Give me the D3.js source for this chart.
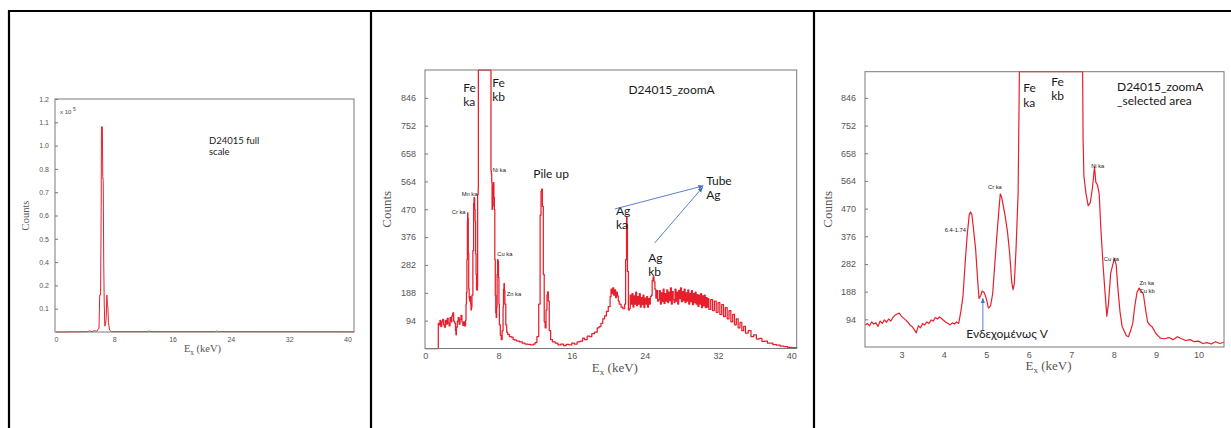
<!DOCTYPE html>
<html>
<head>
<meta charset="utf-8">
<script src="https://cdn.jsdelivr.net/npm/d3@7"></script>
<style>
body { margin: 0; background: #fff; }
.tick text { fill: #555; font-family: "Liberation Sans", Arial, sans-serif; }
.note { font-family: Lato, "Open Sans", sans-serif; fill: #1a1a1a; }
.small { font-family: "Liberation Sans", Arial, sans-serif; fill: #1a1a1a; }
.title { font-family: "Liberation Serif", "Times New Roman", serif; fill: #555; }
</style>
</head>
<body>
<svg id="chart" width="1231" height="428"></svg>
<script>

// ---- data: [energy keV, counts] ----
const fullScale = [ // counts in x10^5
  [0, 0], [1.4, 0], [1.5, 0.001], [3.0, 0.001], [4.4, 0.002], [4.6, 0.006], [4.8, 0.002],
  [5.3, 0.006], [5.6, 0.004], [5.9, 0.02], [6.0, 0.19], [6.12, 0.19], [6.2, 0.64],
  [6.24, 1.057], [6.36, 1.057], [6.42, 0.8], [6.48, 0.78], [6.55, 0.36], [6.62, 0.15],
  [6.7, 0.03], [6.8, 0.04], [6.9, 0.08], [6.98, 0.19], [7.05, 0.14], [7.12, 0.13],
  [7.2, 0.05], [7.35, 0.01], [7.6, 0.002], [12.6, 0.002], [12.75, 0.006], [12.9, 0.002],
  [21.9, 0.002], [22.0, 0.005], [22.15, 0.002], [40.9, 0.001]
];

const zoomA = [
  [0, 0], [1.41, 0], [1.42, 85], [1.5, 80], [1.6, 95], [1.7, 74], [1.8, 90], [1.9, 98],
  [2.0, 80], [2.1, 72], [2.2, 95], [2.3, 82], [2.4, 102], [2.5, 86], [2.6, 76], [2.7, 104],
  [2.8, 90], [2.9, 110], [3.0, 120], [3.1, 92], [3.2, 86], [3.3, 60], [3.35, 46], [3.4, 72],
  [3.5, 92], [3.6, 104], [3.7, 82], [3.8, 98], [3.9, 112], [4.0, 90], [4.1, 78], [4.2, 90],
  [4.3, 76], [4.4, 95], [4.45, 150], [4.5, 190], [4.55, 300], [4.6, 430], [4.63, 458],
  [4.66, 440], [4.7, 320], [4.75, 200], [4.8, 170], [4.85, 160], [4.9, 175], [4.95, 150],
  [5.0, 130], [5.05, 140], [5.1, 180], [5.2, 330], [5.28, 490], [5.33, 510], [5.36, 505],
  [5.4, 470], [5.45, 430], [5.5, 320], [5.55, 250], [5.6, 200], [5.65, 197], [5.7, 210],
  [5.72, 520], [5.78, 540], [5.8, 2000], [7.15, 2000], [7.18, 600], [7.22, 590], [7.26, 560],
  [7.3, 470], [7.35, 480], [7.4, 550], [7.45, 560], [7.5, 510], [7.55, 470], [7.6, 300],
  [7.65, 180], [7.7, 120], [7.75, 105], [7.8, 140], [7.85, 250], [7.9, 300], [7.95, 295],
  [8.0, 240], [8.05, 150], [8.1, 80], [8.2, 45], [8.3, 30], [8.4, 60], [8.5, 140],
  [8.55, 200], [8.6, 219], [8.65, 195], [8.7, 150], [8.8, 80], [8.9, 55], [9.0, 48],
  [9.2, 40], [9.4, 38], [9.6, 30], [9.8, 28], [10.0, 25], [10.3, 22], [10.6, 18],
  [10.9, 15], [11.2, 14], [11.5, 12], [11.8, 15], [12.0, 20], [12.2, 40], [12.4, 150],
  [12.55, 450], [12.65, 530], [12.72, 538], [12.8, 480], [12.9, 250], [13.0, 90],
  [13.1, 70], [13.2, 130], [13.3, 180], [13.37, 191], [13.45, 160], [13.55, 60], [13.7, 30],
  [13.9, 22], [14.2, 18], [14.5, 12], [14.8, 15], [15.1, 10], [15.4, 14], [15.7, 12],
  [16.0, 18], [16.3, 15], [16.6, 22], [16.9, 25], [17.2, 35], [17.4, 30], [17.7, 42],
  [18.0, 40], [18.2, 50], [18.5, 55], [18.8, 70], [19.0, 74], [19.2, 85], [19.4, 100],
  [19.6, 110], [19.8, 125], [20.0, 141], [20.2, 175], [20.3, 200], [20.4, 185], [20.5, 205],
  [20.6, 180], [20.7, 198], [20.8, 172], [20.9, 190], [21.0, 178], [21.1, 160], [21.2, 150],
  [21.4, 140], [21.6, 135], [21.8, 150], [21.9, 300], [22.0, 443], [22.05, 420], [22.1, 260],
  [22.2, 130], [22.3, 135], [22.4, 180], [22.5, 150], [22.6, 185], [22.7, 140], [22.8, 178],
  [22.9, 150], [23.0, 190], [23.1, 145], [23.2, 175], [23.3, 150], [23.4, 185], [23.5, 140],
  [23.6, 172], [23.7, 148], [23.8, 180], [23.9, 138], [24.0, 170], [24.1, 150], [24.2, 175],
  [24.3, 140], [24.4, 168], [24.5, 150], [24.6, 175], [24.7, 180], [24.8, 230], [24.9, 242],
  [25.0, 225], [25.1, 200], [25.2, 170], [25.3, 195], [25.4, 160],
  [25.5, 165], [25.6, 195], [25.7, 150], [25.8, 188], [25.9, 158], [26.0, 200], [26.1, 152],
  [26.2, 185], [26.3, 160], [26.4, 198], [26.5, 155], [26.6, 190], [26.7, 162], [26.8, 205],
  [26.9, 150], [27.0, 192], [27.1, 165], [27.2, 155], [27.3, 200], [27.4, 160], [27.5, 190],
  [27.6, 150], [27.7, 196], [27.8, 168], [27.9, 205], [28.0, 158], [28.1, 192], [28.2, 162],
  [28.3, 200], [28.4, 155], [28.5, 188], [28.6, 160], [28.7, 198], [28.8, 150], [28.9, 186],
  [29.0, 158], [29.1, 195], [29.2, 148], [29.3, 185], [29.4, 155], [29.5, 190], [29.6, 150],
  [29.7, 182], [29.8, 142], [29.9, 180], [30.0, 150], [30.1, 185], [30.2, 138], [30.3, 178],
  [30.4, 145], [30.5, 180], [30.6, 138], [30.7, 172], [30.8, 140], [30.9, 168], [31.0, 132],
  [31.2, 165], [31.4, 128], [31.6, 160], [31.8, 122], [32.0, 155], [32.2, 115], [32.4, 148],
  [32.6, 108], [32.8, 138], [33.0, 100], [33.2, 128], [33.4, 90], [33.6, 115], [33.8, 80],
  [34.0, 100], [34.2, 70], [34.4, 88], [34.6, 60], [34.8, 75], [35.0, 52], [35.3, 60],
  [35.6, 40], [35.9, 46], [36.2, 32], [36.5, 34], [36.8, 24], [37.1, 25], [37.4, 18],
  [37.7, 18], [38.0, 13], [38.4, 11], [38.8, 8], [39.2, 6], [39.6, 4], [40.0, 3], [40.6, 2]
];

const selectedArea = [
  [2.15, 75], [2.2, 80], [2.25, 72], [2.3, 85], [2.35, 78], [2.4, 82], [2.45, 70], [2.5, 88],
  [2.55, 80], [2.6, 92], [2.65, 84], [2.7, 95], [2.75, 88], [2.8, 100], [2.85, 108],
  [2.9, 112], [2.95, 115], [3.0, 105], [3.05, 98], [3.1, 92], [3.15, 85], [3.2, 75],
  [3.25, 70], [3.3, 60], [3.35, 48], [3.4, 72], [3.45, 65], [3.5, 80], [3.55, 75],
  [3.6, 85], [3.65, 80], [3.7, 92], [3.75, 88], [3.8, 100], [3.85, 95], [3.9, 102],
  [3.95, 96], [4.0, 90], [4.05, 84], [4.1, 80], [4.15, 75], [4.2, 82], [4.25, 78],
  [4.3, 85], [4.35, 80], [4.4, 120], [4.45, 170], [4.5, 280], [4.55, 380], [4.6, 450],
  [4.63, 458], [4.66, 450], [4.7, 400], [4.75, 330], [4.8, 220], [4.83, 165], [4.87, 175],
  [4.9, 190], [4.95, 185], [5.0, 165], [5.05, 132], [5.1, 140], [5.15, 180], [5.2, 280],
  [5.25, 380], [5.3, 470], [5.33, 520], [5.36, 510], [5.4, 480], [5.45, 440], [5.5, 390],
  [5.55, 320], [5.6, 220], [5.63, 195], [5.66, 215], [5.7, 330], [5.75, 520], [5.78, 2000],
  [7.27, 2000], [7.28, 710], [7.3, 580], [7.35, 520], [7.4, 480], [7.45, 490], [7.5, 540],
  [7.55, 612], [7.58, 560], [7.62, 550], [7.66, 520], [7.7, 400], [7.75, 280], [7.8, 180],
  [7.84, 105], [7.88, 150], [7.93, 250], [7.98, 280], [8.02, 300], [8.06, 280], [8.1, 200],
  [8.15, 120], [8.2, 70], [8.3, 38], [8.35, 35], [8.4, 55], [8.45, 80], [8.5, 140],
  [8.55, 185], [8.6, 200], [8.65, 190], [8.7, 180], [8.75, 130], [8.8, 85], [8.85, 75],
  [8.9, 70], [8.95, 58], [9.0, 45], [9.05, 38], [9.1, 30], [9.2, 28], [9.3, 32], [9.4, 25],
  [9.5, 35], [9.6, 28], [9.7, 22], [9.8, 25], [9.9, 18], [10.0, 20], [10.1, 12], [10.2, 15],
  [10.3, 10], [10.4, 18], [10.5, 12], [10.6, 16]
];

// ---- tick labels ----
const fullTicks = [0.12, 0.24, 0.36, 0.48, 0.6, 0.72, 0.84, 0.96, 1.08, 1.2];
const fullTickLabels = ["0.1", "0.2", "0.4", "0.5", "0.6", "0.7", "0.8", "1.0", "1.1", "1.2"];
const countTicks = [94, 188, 282, 376, 470, 564, 658, 752, 846];
const fullXTicks = [0, 8, 16, 24, 32, 40];
const zoomXTicks = [0, 8, 16, 24, 32, 40];
const selXTicks = [3, 4, 5, 6, 7, 8, 9, 10];

// ---- annotations: [lines, energy, counts] (left/baseline of first line) ----
const fullNotes = [[["D24015 full", "scale"], 21.0, 0.97]];
const zoomNotes = [
  [["Fe", "ka"], 4.15, 866], [["Fe", "kb"], 7.32, 884], [["D24015_zoomA"], 22.2, 858],
  [["Pile up"], 11.8, 576], [["Tube", "Ag"], 30.7, 553], [["Ag", "ka"], 20.84, 452],
  [["Ag", "kb"], 24.37, 292]
];
const zoomSmall = [
  [["Ni ka"], 7.37, 595], [["Mn ka"], 3.98, 515], [["Cr ka"], 2.89, 454],
  [["Cu ka"], 7.87, 313], [["Zn ka"], 8.9, 176]
];
const zoomArrows = [[20.73, 471, 30.38, 549], [25.07, 356, 30.32, 544]];
const selNotes = [
  [["Fe", "ka"], 5.87, 866], [["Fe", "kb"], 6.53, 887],
  [["D24015_zoomA", "_selected area"], 8.08, 870], [["Ενδεχομένως V"], 4.53, 29]
];
const selSmall = [
  [["Cr ka"], 5.04, 537], [["6.4-1.74"], 4.02, 390], [["Ni ka"], 7.47, 607],
  [["Cu ka"], 7.77, 291], [["Zn ka", "Cu kb"], 8.61, 209]
];
const selArrows = [[4.92, 58, 4.92, 165]];

const svg = d3.select("#chart");
const red = "#e5202c";

svg.append("defs").append("marker")
  .attr("id", "arrow").attr("viewBox", "0 0 10 10").attr("refX", 9).attr("refY", 5)
  .attr("markerWidth", 6).attr("markerHeight", 6).attr("orient", "auto")
  .append("path").attr("d", "M0,1 L10,5 L0,9 z").attr("fill", "#4472c4");

// table borders
[[8, 11, 1231, 11], [9, 10, 9, 428], [371, 11, 371, 428], [814, 11, 814, 428]].forEach(l => {
  svg.append("line").attr("x1", l[0]).attr("y1", l[1]).attr("x2", l[2]).attr("y2", l[3])
    .attr("stroke", "#000").attr("stroke-width", 2.2);
});

function drawPanel(p) {
  const x = d3.scaleLinear().domain(p.xDomain).range([p.left, p.right]);
  const y = d3.scaleLinear().domain(p.yDomain).range([p.bottom, p.top]).clamp(true);
  const g = svg.append("g");

  const yAxis = d3.axisLeft(y).tickValues(p.yTicks).tickSizeInner(-3).tickSizeOuter(0)
    .tickPadding(p.pad);
  if (p.yLabels) yAxis.tickFormat((d, i) => p.yLabels[i]);
  const ya = g.append("g").attr("transform", `translate(${p.frameL},0)`).call(yAxis);
  ya.select(".domain").remove();
  ya.selectAll(".tick line").attr("stroke", "#777");
  ya.selectAll(".tick text").style("font-size", p.tickFont + "px");

  const xa = g.append("g").attr("transform", `translate(0,${p.bottom})`)
    .call(d3.axisBottom(x).tickValues(p.xTicks).tickSize(0).tickPadding(p.xPad));
  xa.select(".domain").remove();
  xa.selectAll(".tick text").style("font-size", p.tickFont + "px");

  const line = d3.line().x(d => x(d[0])).y(d => y(d[1])).curve(p.curve || d3.curveLinear);
  g.append("path").datum(p.data).attr("d", line).attr("fill", "none")
    .attr("stroke", red).attr("stroke-width", p.lw).attr("stroke-linejoin", "round");

  g.append("rect").attr("x", p.frameL).attr("y", p.top).attr("width", p.frameR - p.frameL)
    .attr("height", p.bottom - p.top).attr("fill", "none").attr("stroke", "#7a7a7a")
    .attr("stroke-width", 1);

  // axis titles
  const cx = (p.frameL + p.frameR) / 2;
  g.append("text").attr("class", "title")
    .attr("transform", `translate(${p.frameL - p.countsOff},${(p.top + p.bottom) / 2}) rotate(-90)`)
    .attr("text-anchor", "middle").style("font-size", p.titleFont + "px").text("Counts");
  const xt = g.append("text").attr("class", "title").attr("x", cx + p.exShift)
    .attr("y", p.bottom + p.exOff).attr("text-anchor", "middle")
    .style("font-size", p.titleFont + "px");
  xt.append("tspan").text("E");
  xt.append("tspan").attr("dy", 3).style("font-size", (p.titleFont * 0.7) + "px").text("x");
  xt.append("tspan").attr("dy", -3).text(" (keV)");

  (p.notes || []).forEach(n => addText(g, n, x, y, "note", p.noteFont, p.noteLh));
  (p.small || []).forEach(n => addText(g, n, x, y, "small", p.smallFont, p.smallFont * 1.35));
  (p.arrows || []).forEach(a => {
    g.append("line").attr("x1", x(a[0])).attr("y1", y(a[1])).attr("x2", x(a[2]))
      .attr("y2", y(a[3])).attr("stroke", "#4472c4").attr("stroke-width", 0.9)
      .attr("marker-end", "url(#arrow)");
  });
  return { x, y, g };
}

function addText(g, n, x, y, cls, size, lh) {
  const t = g.append("text").attr("class", cls).attr("x", x(n[1])).attr("y", y(n[2]))
    .style("font-size", size + "px");
  n[0].forEach((s, i) => {
    t.append("tspan").attr("x", x(n[1])).attr("dy", i === 0 ? 0 : lh).text(s);
  });
}

const p1 = drawPanel({
  data: fullScale, xDomain: [0, 40.9], yDomain: [0, 1.2], left: 56, right: 354,
  frameL: 55, frameR: 354, top: 99, bottom: 332, yTicks: fullTicks, yLabels: fullTickLabels,
  xTicks: fullXTicks, pad: 6, xPad: 5, tickFont: 7, titleFont: 10.5, countsOff: 26,
  exOff: 19.5, exShift: -2, lw: 1, notes: fullNotes, noteFont: 9.5, noteLh: 11.7
});
// "x 10^5" multiplier
const mult = p1.g.append("text").attr("class", "small").attr("x", p1.x(0.55)).attr("y", p1.y(1.121))
  .style("font-size", "6px").style("fill", "#444");
mult.append("tspan").text("x 10 ");
mult.append("tspan").attr("dy", -3).style("font-size", "5px").text("5");

drawPanel({
  data: zoomA, xDomain: [0, 40.6], yDomain: [0, 940], left: 425.3, right: 796.7,
  frameL: 425, frameR: 796.7, top: 70, bottom: 348.5, yTicks: countTicks,
  xTicks: zoomXTicks, pad: 9, xPad: 4.5, tickFont: 9, titleFont: 13, countsOff: 34,
  exOff: 23, exShift: 4, lw: 1.25, notes: zoomNotes, noteFont: 12, noteLh: 14.5,
  small: zoomSmall, smallFont: 5.8, arrows: zoomArrows, curve: d3.curveStepAfter
});

drawPanel({
  data: selectedArea, xDomain: [2.15, 10.6], yDomain: [0, 935], left: 865.3, right: 1224,
  frameL: 865, frameR: 1224, top: 71.7, bottom: 347, yTicks: countTicks,
  xTicks: selXTicks, pad: 9, xPad: 4.5, tickFont: 9, titleFont: 13, countsOff: 33,
  exOff: 23, exShift: 4, lw: 1.2, notes: selNotes, noteFont: 12, noteLh: 14.6,
  small: selSmall, smallFont: 5.8, arrows: selArrows
});
</script>
</body>
</html>
